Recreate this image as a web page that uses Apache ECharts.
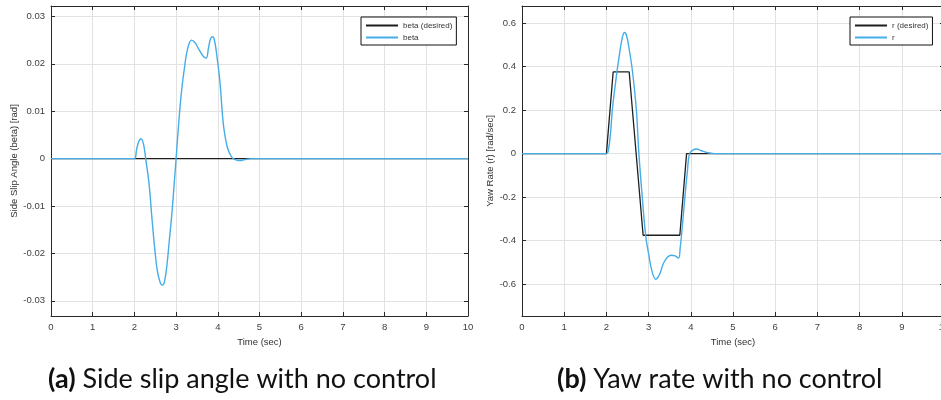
<!DOCTYPE html>
<html>
<head>
<meta charset="utf-8">
<script src="https://cdn.jsdelivr.net/npm/echarts@6/dist/echarts.min.js"></script>
<style>
html,body{margin:0;padding:0;background:#fff;}
#c{width:941px;height:400px;}
</style>
</head>
<body>
<div id="c"></div>
<script>
// ---- data ----
const betaTime = [0, 2.0, 2.05, 2.1, 2.16, 2.22, 2.27, 2.35, 2.42, 2.49, 2.55, 2.62, 2.67, 2.72, 2.78, 2.84, 2.9, 2.95, 3.0, 3.06, 3.13, 3.21, 3.28, 3.37, 3.45, 3.55, 3.65, 3.72, 3.78, 3.83, 3.88, 3.93, 3.98, 4.05, 4.13, 4.2, 4.25, 4.32, 4.37, 4.45, 4.53, 4.65, 4.8, 10];
const betaValues = [0, 0, 0.0018, 0.0035, 0.0042, 0.0030, 0.0, -0.0052, -0.0125, -0.0192, -0.0237, -0.0262, -0.0267, -0.0260, -0.0225, -0.0170, -0.0115, -0.0058, 0.0, 0.0072, 0.0142, 0.0198, 0.0233, 0.0250, 0.0245, 0.0230, 0.0216, 0.0212, 0.0235, 0.0254, 0.0257, 0.0245, 0.0215, 0.0163, 0.0075, 0.0035, 0.0018, 0.0005, 0.0, -0.0003, -0.0004, -0.0002, 0, 0];
const betaDesiredTime = [0, 10];
const betaDesiredValues = [0, 0];

const rTime = [0, 2.0, 2.05, 2.1, 2.14, 2.2, 2.25, 2.32, 2.38, 2.43, 2.48, 2.54, 2.62, 2.71, 2.77, 2.85, 2.93, 3.0, 3.08, 3.17, 3.26, 3.35, 3.45, 3.54, 3.63, 3.71, 3.75, 3.78, 3.86, 3.92, 3.97, 4.05, 4.13, 4.25, 4.4, 4.55, 10];
const rValues = [0, 0, 0.02, 0.1, 0.2, 0.3, 0.375, 0.47, 0.535, 0.556, 0.54, 0.48, 0.375, 0.2, 0.0, -0.2, -0.375, -0.46, -0.54, -0.577, -0.555, -0.505, -0.475, -0.467, -0.47, -0.48, -0.43, -0.375, -0.2, -0.08, 0.0, 0.016, 0.021, 0.013, 0.004, 0, 0];
const rDesiredTime = [0, 2.0, 2.16, 2.54, 2.87, 3.74, 3.9, 10];
const rDesiredValues = [0, 0, 0.375, 0.375, -0.375, -0.375, 0, 0];

const xTickLabels = ['0','1','2','3','4','5','6','7','8','9','10'];
const captionA = ['(a)', 'Side slip angle with no control'];
const captionB = ['(b)', 'Yaw rate with no control'];

const pairs = (t, v) => t.map((x, i) => [x, v[i]]);

// ---- style ----
const BLUE = '#45ADE8';
const BLACK = '#1e1e1e';
const AX = '#2a2a2a';
const LBL = '#404040';
const GRIDC = '#e2e2e2';
const FONT = '"Liberation Sans", Arial, sans-serif';

function xAxisMain(gi) {
  return {
    type: 'value', gridIndex: gi, min: 0, max: 10, interval: 1,
    name: 'Time (sec)', nameLocation: 'middle', nameGap: 20,
    nameTextStyle: { color: '#303030', fontSize: 9.5, fontFamily: FONT },
    axisLine: { show: true, onZero: false, lineStyle: { color: AX, width: 1 } },
    axisTick: { show: true, inside: true, length: 4, lineStyle: { color: AX } },
    axisLabel: { color: LBL, fontSize: 9.5, fontFamily: FONT, margin: 6,
      formatter: v => xTickLabels[Math.round(v)] },
    splitLine: { show: true, lineStyle: { color: GRIDC, width: 1 } }
  };
}
function xAxisTop(gi) {
  return {
    type: 'value', gridIndex: gi, min: 0, max: 10, interval: 1, position: 'top',
    axisLine: { show: true, onZero: false, lineStyle: { color: AX, width: 1 } },
    axisTick: { show: true, inside: true, length: 4, lineStyle: { color: AX } },
    axisLabel: { show: false }, splitLine: { show: false }
  };
}
function yAxisMain(gi, min, max, dec, name, gap) {
  return {
    type: 'value', gridIndex: gi, min: min, max: max, splitNumber: 6,
    name: name, nameLocation: 'middle', nameGap: gap, nameRotate: 90,
    nameTextStyle: { color: '#303030', fontSize: 9.5, fontFamily: FONT },
    axisLine: { show: true, onZero: false, lineStyle: { color: AX, width: 1 } },
    axisTick: { show: true, inside: true, length: 4, lineStyle: { color: AX } },
    axisLabel: { color: LBL, fontSize: 9.5, fontFamily: FONT, margin: 6,
      showMinLabel: false, showMaxLabel: false,
      formatter: v => String(+(+v).toFixed(dec)) },
    splitLine: { show: true, lineStyle: { color: GRIDC, width: 1 } }
  };
}
function yAxisRight(gi, min, max) {
  return {
    type: 'value', gridIndex: gi, min: min, max: max, splitNumber: 6, position: 'right',
    axisLine: { show: true, onZero: false, lineStyle: { color: AX, width: 1 } },
    axisTick: { show: true, inside: true, length: 4, lineStyle: { color: AX } },
    axisLabel: { show: false }, splitLine: { show: false }
  };
}
function legendBox(names, left) {
  return {
    data: names, orient: 'vertical', left: left, top: 17,
    backgroundColor: '#fff', borderColor: '#111', borderWidth: 1,
    padding: [3, 4, 2, 5], itemGap: 1, itemWidth: 32, itemHeight: 2, icon: 'rect',
    textStyle: { color: '#333', fontSize: 8, fontFamily: FONT, lineHeight: 11 },
    selectedMode: false
  };
}
function caption(parts, left) {
  return { type: 'text', left: left, top: 366, style: {
    text: '{b|' + parts[0] + '} ' + parts[1],
    rich: { b: { fontWeight: 'bold', fontSize: 27, fontFamily: 'Lato', fill: '#111' } },
    fontSize: 27, fontFamily: 'Lato', fill: '#111' } };
}

const chart = echarts.init(document.getElementById('c'), null, { renderer: 'canvas' });
chart.setOption({
  animation: false,
  backgroundColor: '#fff',
  grid: [
    { left: 51, top: 6, width: 417, height: 310, outerBoundsMode: 'none', containLabel: false },
    { left: 522, top: 6, width: 422, height: 310, outerBoundsMode: 'none', containLabel: false }
  ],
  xAxis: [xAxisMain(0), xAxisMain(1), xAxisTop(0), xAxisTop(1)],
  yAxis: [
    yAxisMain(0, -0.0332, 0.0322, 2, 'Side Slip Angle (beta) [rad]', 26),
    yAxisMain(1, -0.746, 0.678, 1, 'Yaw Rate (r) [rad/sec]', 27),
    yAxisRight(0, -0.0332, 0.0322),
    yAxisRight(1, -0.746, 0.678)
  ],
  legend: [
    legendBox(['beta (desired)', 'beta'], 361),
    legendBox(['r (desired)', 'r'], 850)
  ],
  series: [
    { name: 'beta (desired)', type: 'line', xAxisIndex: 0, yAxisIndex: 0, showSymbol: false,
      data: pairs(betaDesiredTime, betaDesiredValues), lineStyle: { color: BLACK, width: 1.3 }, itemStyle: { color: BLACK } },
    { name: 'beta', type: 'line', xAxisIndex: 0, yAxisIndex: 0, showSymbol: false, smooth: 0.4,
      data: pairs(betaTime, betaValues), lineStyle: { color: BLUE, width: 1.4 }, itemStyle: { color: BLUE } },
    { name: 'r (desired)', type: 'line', xAxisIndex: 1, yAxisIndex: 1, showSymbol: false,
      data: pairs(rDesiredTime, rDesiredValues), lineStyle: { color: BLACK, width: 1.3 }, itemStyle: { color: BLACK } },
    { name: 'r', type: 'line', xAxisIndex: 1, yAxisIndex: 1, showSymbol: false, smooth: 0.4,
      data: pairs(rTime, rValues), lineStyle: { color: BLUE, width: 1.4 }, itemStyle: { color: BLUE } }
  ],
  graphic: [ caption(captionA, 48), caption(captionB, 557) ]
});
</script>
</body>
</html>
